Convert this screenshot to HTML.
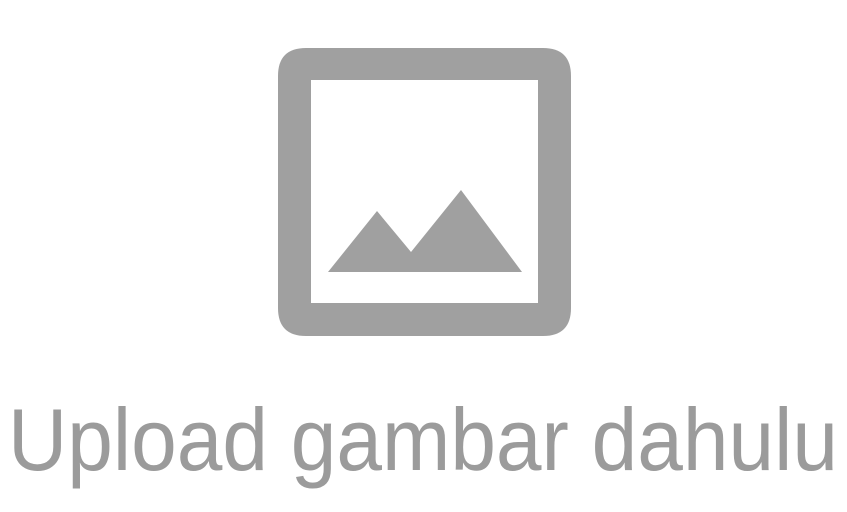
<!DOCTYPE html>
<html>
<head>
<meta charset="utf-8">
<style>
  html, body { margin: 0; padding: 0; background: #ffffff; }
  body { width: 847px; height: 512px; overflow: hidden; }
  svg { display: block; }
</style>
</head>
<body>
<svg width="847" height="512" viewBox="0 0 847 512" xmlns="http://www.w3.org/2000/svg">
  <g>
    <path fill="#a0a0a0" fill-rule="evenodd"
      d="M306,48 H543 Q571,48 571,76 V308 Q571,336 543,336 H306 Q278,336 278,308 V76 Q278,48 306,48 Z
         M311,80 V303 H538 V80 Z"/>
    <polygon fill="#a0a0a0"
      points="328,272 377,211 411,252 461,190 522,272"/>
  </g>
  <text x="8" y="470" textLength="830" lengthAdjust="spacingAndGlyphs"
    font-family="'Liberation Sans', sans-serif" font-size="88" fill="#9b9b9b">Upload gambar dahulu</text>
</svg>
</body>
</html>
